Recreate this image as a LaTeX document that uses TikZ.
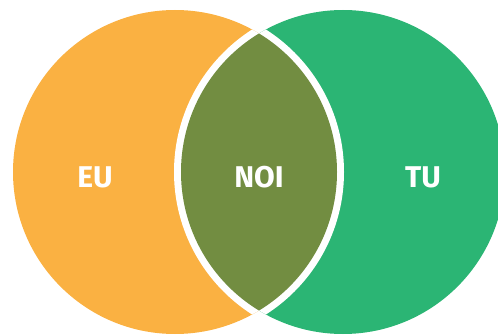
\documentclass[tikz,border=0pt]{standalone}
\usepackage{fontspec}
\setmainfont{Fira Sans}
\definecolor{euorange}{HTML}{FAB142}
\definecolor{tugreen}{HTML}{2BB574}
\definecolor{noiolive}{HTML}{728D41}
\begin{document}
\begin{tikzpicture}[x=1pt, y=1pt]
        \useasboundingbox (0,0) rectangle (498,335);
        \coordinate (ceu) at (175,163);
        \coordinate (ctu) at (343,163);
        \fill[euorange] (ceu) circle (162);
        \fill[tugreen] (ctu) circle (162);
        % white rim round the overlap
        \begin{scope}
            \clip (ceu) circle (162);
            \draw[white, line width=14] (ctu) circle (162);
        \end{scope}
        \begin{scope}
            \clip (ctu) circle (162);
            \draw[white, line width=14] (ceu) circle (162);
        \end{scope}
        \begin{scope}
            \clip (ceu) circle (162);
            \fill[noiolive] (ctu) circle (162);
        \end{scope}
        \node[text=white, font=\bfseries\fontsize{30}{30}\selectfont] (eu) at (95,158) {EU};
        \node[text=white, font=\bfseries\fontsize{30}{30}\selectfont] (noi) at (259,158) {NOI};
        \node[text=white, font=\bfseries\fontsize{30}{30}\selectfont] (tu) at (423,158) {TU};
    \end{tikzpicture}
\end{document}
